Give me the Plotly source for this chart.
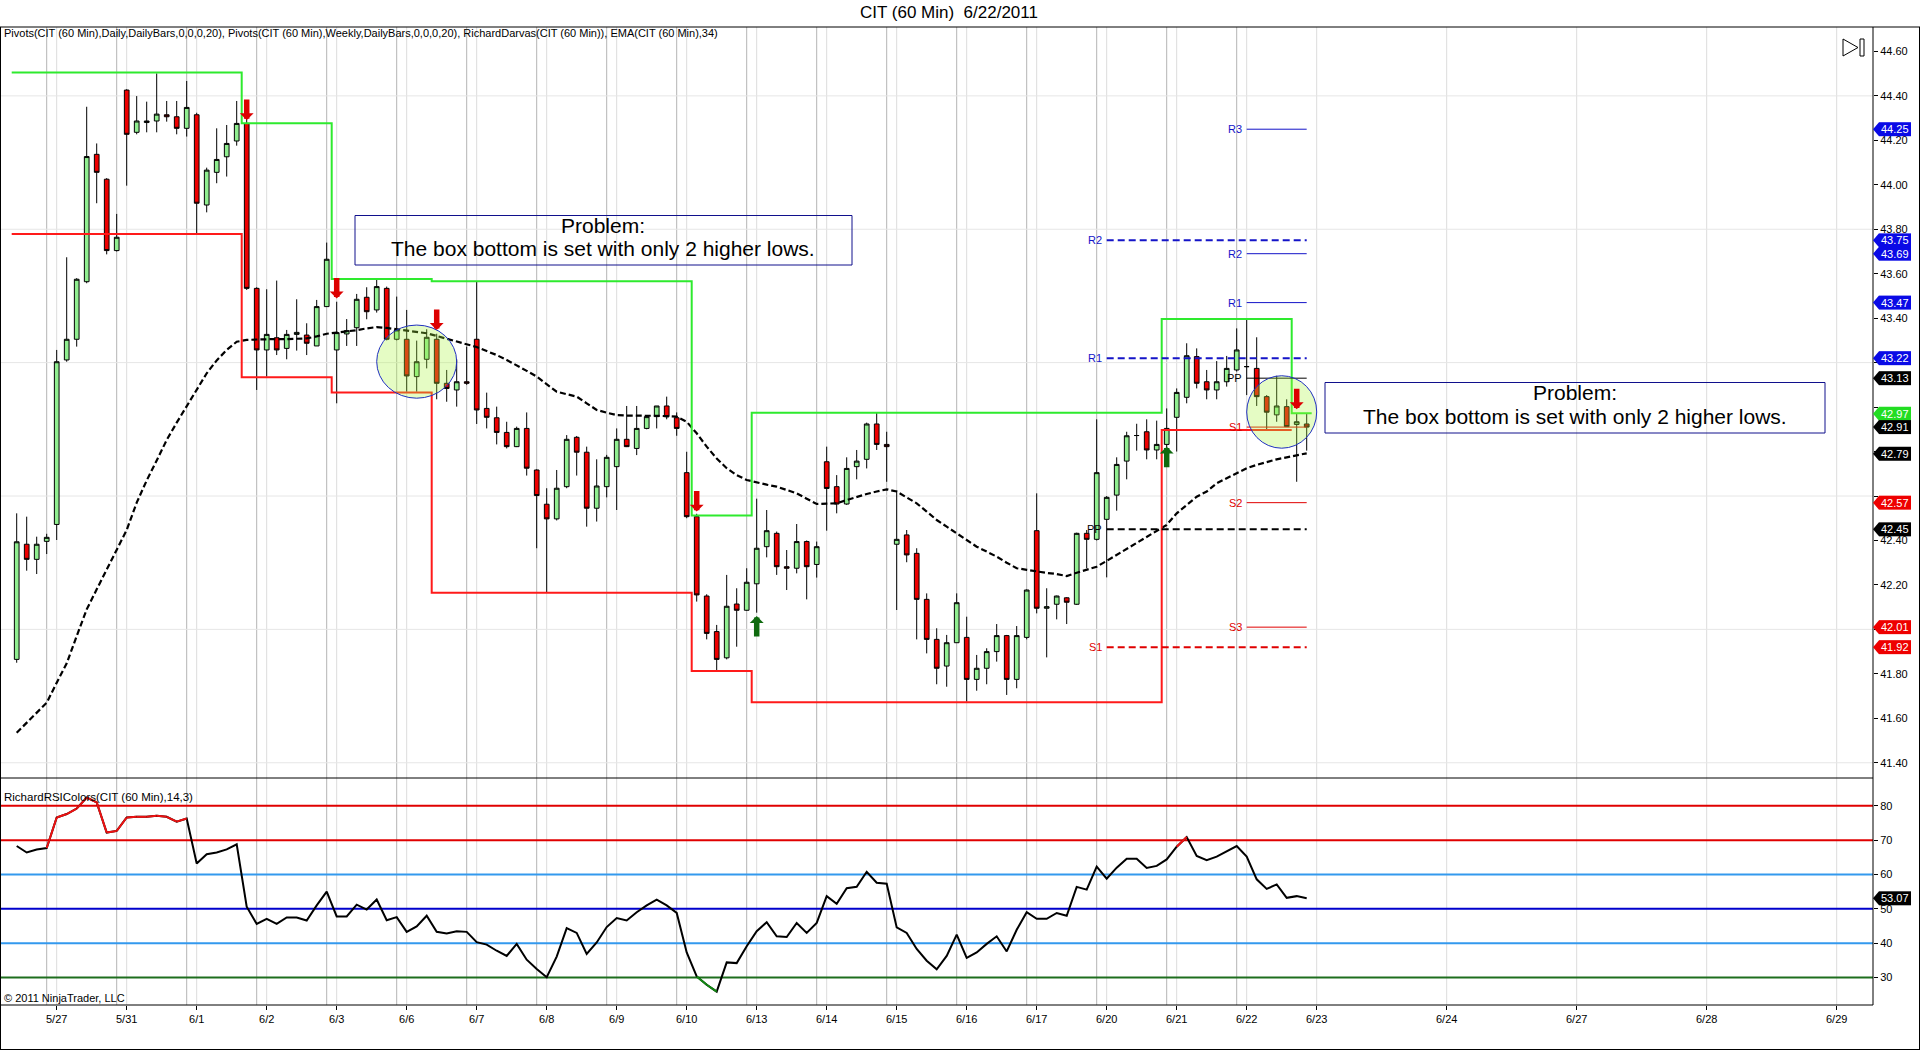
import plotly.graph_objects as go

# ------------------------------------------------------------------ data
bars = list(range(1, 131))

opens = [
    41.865, 42.383, 42.315, 42.396, 42.472, 43.212, 43.305, 43.564, 44.137, 44.025,
    43.704, 44.426, 44.236, 44.280, 44.287, 44.315, 44.306, 44.254, 44.315, 43.909,
    44.056, 44.126, 44.197, 44.276, 43.534, 43.257, 43.312, 43.264, 43.327, 43.324,
    43.275, 43.452, 43.257, 43.329, 43.357, 43.494, 43.437, 43.534, 43.305, 43.305,
    43.137, 43.215, 43.305, 43.107, 43.077, 43.114, 43.305, 42.994, 42.952, 42.886,
    42.822, 42.904, 42.717, 42.563, 42.497, 42.642, 42.864, 42.797, 42.545, 42.642,
    42.732, 42.855, 42.814, 42.904, 42.957, 43.005, 42.952, 42.705, 42.507, 42.150,
    41.990, 41.872, 42.114, 42.086, 42.205, 42.372, 42.432, 42.282, 42.275, 42.395,
    42.292, 42.754, 42.642, 42.564, 42.732, 42.765, 42.924, 42.832, 42.383, 42.425,
    42.342, 42.135, 41.955, 41.835, 41.940, 41.964, 41.775, 41.825, 41.900, 41.972,
    41.775, 41.964, 42.444, 42.095, 42.113, 42.142, 42.113, 42.432, 42.405, 42.495,
    42.604, 42.757, 42.872, 42.889, 42.807, 42.832, 42.954, 43.044, 43.227, 43.114,
    43.077, 43.114, 43.167, 43.182, 43.174, 43.047, 42.965, 43.002, 42.922, 42.924]

highs = [
    42.522, 42.507, 42.417, 42.430, 43.257, 43.674, 43.580, 44.351, 44.186, 44.030,
    43.869, 44.430, 44.399, 44.374, 44.501, 44.377, 44.377, 44.467, 44.324, 44.077,
    44.254, 44.269, 44.377, 44.300, 43.539, 43.530, 43.569, 43.347, 43.485, 43.377,
    43.482, 43.740, 43.474, 43.396, 43.509, 43.539, 43.572, 43.542, 43.497, 43.437,
    43.299, 43.350, 43.330, 43.167, 43.215, 43.272, 43.564, 43.065, 43.002, 42.934,
    42.912, 42.976, 42.720, 42.635, 42.717, 42.874, 42.870, 42.822, 42.765, 42.785,
    42.904, 43.005, 43.005, 42.960, 43.005, 43.047, 42.976, 42.799, 42.520, 42.158,
    42.020, 42.245, 42.185, 42.275, 42.588, 42.537, 42.440, 42.357, 42.474, 42.400,
    42.395, 42.822, 42.694, 42.774, 42.807, 42.930, 42.975, 42.889, 42.624, 42.447,
    42.365, 42.162, 42.005, 41.975, 42.162, 42.057, 41.885, 41.915, 42.024, 41.975,
    42.015, 42.180, 42.612, 42.185, 42.152, 42.145, 42.435, 42.447, 42.945, 42.600,
    42.774, 42.889, 42.925, 42.945, 42.939, 42.994, 43.084, 43.287, 43.264, 43.167,
    43.207, 43.230, 43.354, 43.392, 43.314, 43.054, 43.141, 43.035, 42.972, 42.972]

lows = [
    41.850, 42.264, 42.249, 42.339, 42.402, 43.204, 43.272, 43.557, 43.917, 43.687,
    43.700, 43.996, 44.227, 44.236, 44.236, 44.284, 44.227, 44.217, 43.782, 43.876,
    44.007, 44.037, 44.176, 43.527, 43.077, 43.137, 43.234, 43.215, 43.254, 43.234,
    43.275, 43.452, 43.017, 43.275, 43.275, 43.395, 43.425, 43.300, 43.300, 43.069,
    43.069, 43.174, 43.035, 43.024, 43.002, 43.100, 42.924, 42.904, 42.832, 42.814,
    42.820, 42.692, 42.365, 42.165, 42.490, 42.635, 42.692, 42.462, 42.485, 42.594,
    42.537, 42.820, 42.784, 42.900, 42.904, 42.945, 42.871, 42.500, 42.125, 41.955,
    41.815, 41.865, 41.922, 42.084, 42.075, 42.324, 42.245, 42.177, 42.252, 42.135,
    42.233, 42.444, 42.522, 42.560, 42.675, 42.724, 42.807, 42.664, 42.087, 42.302,
    41.955, 41.892, 41.753, 41.742, 41.940, 41.675, 41.724, 41.753, 41.855, 41.705,
    41.735, 41.955, 42.072, 41.874, 42.045, 42.024, 42.110, 42.275, 42.400, 42.234,
    42.534, 42.675, 42.804, 42.765, 42.765, 42.795, 42.800, 43.017, 43.084, 43.035,
    43.035, 43.092, 43.160, 43.054, 43.005, 42.897, 42.934, 42.912, 42.664, 42.804]

closes = [
    42.394, 42.315, 42.383, 42.414, 43.204, 43.305, 43.575, 44.127, 44.056, 43.704,
    43.764, 44.227, 44.287, 44.287, 44.318, 44.306, 44.254, 44.348, 43.917, 44.066,
    44.114, 44.186, 44.276, 43.534, 43.257, 43.327, 43.257, 43.327, 43.336, 43.287,
    43.452, 43.665, 43.335, 43.344, 43.485, 43.429, 43.542, 43.305, 43.347, 43.140,
    43.204, 43.314, 43.107, 43.084, 43.114, 43.107, 42.987, 42.954, 42.886, 42.822,
    42.904, 42.725, 42.602, 42.497, 42.635, 42.855, 42.797, 42.545, 42.645, 42.774,
    42.855, 42.822, 42.904, 42.957, 43.005, 42.957, 42.904, 42.507, 42.155, 41.982,
    41.865, 42.104, 42.086, 42.212, 42.365, 42.444, 42.282, 42.275, 42.395, 42.282,
    42.372, 42.634, 42.564, 42.724, 42.757, 42.924, 42.832, 42.822, 42.405, 42.335,
    42.135, 41.955, 41.825, 41.940, 42.120, 41.775, 41.825, 41.900, 41.972, 41.775,
    41.972, 42.177, 42.095, 42.102, 42.150, 42.122, 42.432, 42.405, 42.705, 42.594,
    42.742, 42.871, 42.872, 42.807, 42.832, 42.904, 43.066, 43.231, 43.107, 43.077,
    43.114, 43.174, 43.257, 43.182, 43.047, 42.977, 43.005, 42.912, 42.934, 42.910]

ema34 = [
    41.535, 41.580, 41.625, 41.670, 41.760, 41.847, 41.970, 42.090, 42.180, 42.270,
    42.357, 42.447, 42.570, 42.670, 42.760, 42.852, 42.930, 43.002, 43.080, 43.152,
    43.210, 43.257, 43.294, 43.302, 43.304, 43.306, 43.306, 43.306, 43.307, 43.309,
    43.318, 43.330, 43.335, 43.340, 43.346, 43.354, 43.360, 43.356, 43.350, 43.345,
    43.338, 43.332, 43.320, 43.308, 43.294, 43.283, 43.270, 43.252, 43.234, 43.212,
    43.189, 43.163, 43.137, 43.103, 43.069, 43.058, 43.047, 43.017, 42.987, 42.975,
    42.964, 42.962, 42.960, 42.961, 42.961, 42.959, 42.957, 42.934, 42.882, 42.822,
    42.769, 42.725, 42.694, 42.672, 42.660, 42.651, 42.642, 42.627, 42.612, 42.588,
    42.564, 42.566, 42.567, 42.582, 42.597, 42.609, 42.620, 42.630, 42.620, 42.594,
    42.567, 42.530, 42.492, 42.462, 42.432, 42.402, 42.372, 42.350, 42.327, 42.300,
    42.275, 42.268, 42.260, 42.254, 42.249, 42.240, 42.255, 42.268, 42.282, 42.308,
    42.335, 42.360, 42.387, 42.413, 42.440, 42.470, 42.522, 42.560, 42.597, 42.620,
    42.657, 42.680, 42.702, 42.725, 42.740, 42.754, 42.765, 42.774, 42.783, 42.792]

rsi = [
    68.3, 66.4, 67.3, 67.7, 76.6, 77.6, 79.2, 82.4, 81.0, 72.2,
    72.7, 76.6, 76.8, 76.8, 77.1, 76.8, 75.4, 76.3, 63.2, 65.9,
    66.4, 67.3, 68.8, 50.6, 45.6, 47.1, 45.6, 47.5, 47.5, 46.6,
    51.0, 55.0, 47.8, 47.8, 51.2, 49.8, 52.7, 46.7, 47.6, 43.3,
    44.9, 48.0, 43.3, 42.8, 43.5, 43.3, 40.3, 39.6, 37.8, 36.3,
    39.8, 35.2, 32.5, 30.1, 36.1, 44.4, 43.0, 36.9, 40.2, 44.7,
    47.3, 46.6, 49.0, 51.0, 52.7, 51.0, 48.8, 37.3, 30.3, 27.9,
    25.9, 34.4, 34.2, 39.1, 43.5, 46.1, 42.0, 41.8, 45.9, 43.0,
    45.9, 53.7, 51.5, 56.0, 56.4, 60.8, 57.6, 57.3, 44.6, 43.0,
    38.3, 34.9, 32.4, 36.3, 42.5, 35.7, 37.3, 39.8, 42.0, 37.6,
    43.9, 49.0, 47.1, 47.1, 48.8, 48.0, 56.4, 55.6, 62.3, 58.8,
    62.0, 64.6, 64.6, 61.9, 62.5, 64.4, 68.1, 70.9, 65.4, 64.2,
    65.2, 66.8, 68.3, 65.2, 58.6, 55.8, 57.1, 53.2, 53.7, 53.07]

date_labels = ["5/27", "5/31", "6/1", "6/2", "6/3", "6/6", "6/7", "6/8", "6/9", "6/10",
               "6/13", "6/14", "6/15", "6/16", "6/17", "6/20", "6/21", "6/22",
               "6/23", "6/24", "6/27", "6/28", "6/29"]
label_bars = [5, 12, 19, 26, 33, 40, 47, 54, 61, 68, 75, 82, 89, 96, 103, 110, 117, 124,
              131, 144, 157, 170, 183]

# Darvas box (top = green, bottom = red): level and last bar of each segment
darvas_top_levels = [44.505, 44.277, 43.576, 43.566, 42.512, 42.974, 43.396, 42.972]
darvas_top_ends = [23, 32, 42, 68, 74, 115, 128, 130]
darvas_bot_levels = [43.779, 43.134, 43.066, 42.165, 41.813, 41.672, 42.897]
darvas_bot_ends = [23, 32, 42, 68, 74, 115, 128]

sell_arrow_bars = [24, 33, 43, 69, 129]
sell_arrow_prices = [44.291, 43.489, 43.347, 42.530, 42.990]
buy_arrow_bars = [75, 116]
buy_arrow_prices = [42.060, 42.822]

weekly_pivots = {"R2": 43.75, "R1": 43.22, "PP": 42.45, "S1": 41.92}
daily_pivots = {"R3": 44.25, "R2": 43.69, "R1": 43.47, "PP": 43.13,
                "S1": 42.91, "S2": 42.57, "S3": 42.01}
weekly_start_bar = 110
daily_start_bar = 124

rsi_levels = [80, 70, 60, 50, 40, 30]

# price-axis labels that the reference hides behind its value flags
hidden_price_ticks = [43.2, 43.0, 42.8, 42.6, 42.0]

note_lines = ["Problem:", "The box bottom is set with only 2 higher lows."]

# ------------------------------------------------------------------ geometry / style
W, H = 1920, 1051
PL, PR, PT, PB = 0, 47, 27, 46
PLOT_W = W - PL - PR
PLOT_H = H - PT - PB
PLOT_BOT = H - PB
SEP_Y = 778
split = (PLOT_BOT - SEP_Y) / PLOT_H
X_RANGE = [-0.67, 186.63]
Y_RANGE = [41.3314, 44.7098]
RSI_RANGE = [22.0, 88.1]
FONT = "Liberation Sans, Arial, sans-serif"
PPU = (SEP_Y - PT) / (Y_RANGE[1] - Y_RANGE[0])      # px per price unit
RPU = (PLOT_BOT - SEP_Y) / (RSI_RANGE[1] - RSI_RANGE[0])

GREEN_BODY = "#90EE90"
RED_BODY = "#EE0000"
BOX_GREEN = "#2EEA2E"
BOX_RED = "#FF1A1A"
PIV_BLUE = "#1414C8"
PIV_RED = "#E00000"


def xp(px):
    return (px - PL) / PLOT_W


def yp(py):
    return (PLOT_BOT - py) / PLOT_H


def step_xy(levels, ends, first_bar):
    xs, ys = [], []
    start = first_bar
    for lev, end in zip(levels, ends):
        xs += [start - 0.5, end + 0.5]
        ys += [lev, lev]
        start = end + 1
    return xs, ys


fig = go.Figure()

# candles
fig.add_trace(go.Candlestick(
    x=bars, open=opens, high=highs, low=lows, close=closes,
    increasing=dict(fillcolor=GREEN_BODY, line=dict(color="black", width=1)),
    decreasing=dict(fillcolor=RED_BODY, line=dict(color="black", width=1)),
    whiskerwidth=0, showlegend=False, hoverinfo="skip", xaxis="x", yaxis="y"))

# EMA
fig.add_trace(go.Scatter(x=bars, y=ema34, mode="lines",
                         line=dict(color="black", width=2.2, dash="6px,3px"),
                         showlegend=False, hoverinfo="skip", xaxis="x", yaxis="y"))

# Darvas box
tx, ty = step_xy(darvas_top_levels, darvas_top_ends, bars[0])
bx, by = step_xy(darvas_bot_levels, darvas_bot_ends, bars[0])
fig.add_trace(go.Scatter(x=tx, y=ty, mode="lines", line=dict(color=BOX_GREEN, width=2),
                         showlegend=False, hoverinfo="skip", xaxis="x", yaxis="y"))
fig.add_trace(go.Scatter(x=bx, y=by, mode="lines", line=dict(color=BOX_RED, width=2),
                         showlegend=False, hoverinfo="skip", xaxis="x", yaxis="y"))


def piv_color(name):
    if name.startswith("R"):
        return PIV_BLUE
    if name.startswith("S"):
        return PIV_RED
    return "black"


annotations = []
# pivots (weekly dashed, daily solid)
for name, val in weekly_pivots.items():
    fig.add_trace(go.Scatter(x=[weekly_start_bar, bars[-1]], y=[val, val], mode="lines",
                             line=dict(color=piv_color(name), width=2, dash="7px,4px"),
                             showlegend=False, hoverinfo="skip", xaxis="x", yaxis="y"))
    annotations.append(dict(x=weekly_start_bar - 0.3, y=val, xref="x", yref="y", text=name,
                            showarrow=False, xanchor="right", yanchor="middle",
                            font=dict(family=FONT, size=11, color=piv_color(name))))
for name, val in daily_pivots.items():
    fig.add_trace(go.Scatter(x=[daily_start_bar, bars[-1]], y=[val, val], mode="lines",
                             line=dict(color=piv_color(name), width=1),
                             showlegend=False, hoverinfo="skip", xaxis="x", yaxis="y"))
    annotations.append(dict(x=daily_start_bar - 0.3, y=val, xref="x", yref="y", text=name,
                            showarrow=False, xanchor="right", yanchor="middle",
                            font=dict(family=FONT, size=11, color=piv_color(name))))

# RSI
fig.add_trace(go.Scatter(x=bars, y=rsi, mode="lines", line=dict(color="black", width=2),
                         showlegend=False, hoverinfo="skip", xaxis="x", yaxis="y2"))
rx, ry, gx, gy = [], [], [], []
for i in range(1, len(rsi)):
    if rsi[i] > 70:
        rx += [bars[i - 1], bars[i], None]
        ry += [rsi[i - 1], rsi[i], None]
    elif rsi[i] < 30:
        gx += [bars[i - 1], bars[i], None]
        gy += [rsi[i - 1], rsi[i], None]
fig.add_trace(go.Scatter(x=rx, y=ry, mode="lines", line=dict(color="#EE1111", width=2),
                         showlegend=False, hoverinfo="skip", xaxis="x", yaxis="y2"))
fig.add_trace(go.Scatter(x=gx, y=gy, mode="lines", line=dict(color="#128A12", width=2),
                         showlegend=False, hoverinfo="skip", xaxis="x", yaxis="y2"))

# ------------------------------------------------------------------ shapes
shapes = []
trading_labels = [b for b in label_bars if b <= bars[-1]]
for b in label_bars:
    shapes.append(dict(type="line", xref="x", yref="paper", x0=b, x1=b, y0=0, y1=1,
                       line=dict(color="#DCDCDC", width=1), layer="below"))
for b in trading_labels:
    shapes.append(dict(type="line", xref="x", yref="paper", x0=b - 1, x1=b - 1, y0=0, y1=1,
                       line=dict(color="#B4B4B4", width=1), layer="below"))
for g in [44.4, 43.8, 43.2, 42.6, 42.0, 41.4]:
    shapes.append(dict(type="line", xref="paper", yref="y", x0=0, x1=1, y0=g, y1=g,
                       line=dict(color="#E6E6E6", width=1), layer="below"))

rsi_level_colors = {80: "#E00000", 70: "#E00000", 60: "#3399EE", 50: "#0000CC",
                    40: "#3399EE", 30: "#1E6E1E"}
for lv in rsi_levels:
    shapes.append(dict(type="line", xref="paper", yref="y2", x0=0, x1=1, y0=lv, y1=lv,
                       line=dict(color=rsi_level_colors[lv], width=2), layer="below"))

# frame
frame = [((0, PT), (W, PT)), ((0, SEP_Y), (PLOT_W, SEP_Y)), ((0, PLOT_BOT), (PLOT_W, PLOT_BOT)),
         ((PLOT_W, PT), (PLOT_W, PLOT_BOT)), ((0.5, PT), (0.5, H - 1)),
         ((0, H - 1.5), (W, H - 1.5)), ((W - 0.5, PT), (W - 0.5, H - 1))]
for (x0, y0), (x1, y1) in frame:
    shapes.append(dict(type="line", xref="paper", yref="paper", x0=xp(x0), x1=xp(x1),
                       y0=yp(y0), y1=yp(y1), line=dict(color="black", width=1), layer="above"))

# "go to end" icon
shapes.append(dict(type="path", xref="paper", yref="paper",
                   path=f"M{xp(1843)},{yp(39)} L{xp(1858)},{yp(47.5)} L{xp(1843)},{yp(56)} Z",
                   line=dict(color="black", width=1), fillcolor="rgba(0,0,0,0)", layer="above"))
shapes.append(dict(type="rect", xref="paper", yref="paper", x0=xp(1860), x1=xp(1864),
                   y0=yp(56), y1=yp(39), line=dict(color="black", width=1), layer="above"))

# highlight circles
circles = [(37.0, 45.0, 43.040, 43.369), (124.0, 131.0, 42.815, 43.141)]
for x0, x1, y0, y1 in circles:
    shapes.append(dict(type="circle", xref="x", yref="y", x0=x0, x1=x1, y0=y0, y1=y1,
                       fillcolor="rgba(170,245,60,0.30)", line=dict(color="#2030C0", width=1),
                       layer="above"))

# right-axis price flags
flags = [(daily_pivots["R3"], "#0A0AE6"), (weekly_pivots["R2"], "#0A0AE6"),
         (daily_pivots["R2"], "#0A0AE6"), (daily_pivots["R1"], "#0A0AE6"),
         (weekly_pivots["R1"], "#0A0AE6"), (daily_pivots["PP"], "black"),
         (darvas_top_levels[-1], "#22DD22"), (closes[-1], "black"), (ema34[-1], "black"),
         (daily_pivots["S2"], "#EE0000"), (weekly_pivots["PP"], "black"),
         (daily_pivots["S3"], "#EE0000"), (weekly_pivots["S1"], "#EE0000")]


def add_flag(val, color, yref, ppu):
    h = 7.0 / ppu
    shapes.append(dict(type="path", xref="paper", yref=yref,
                       path=f"M{xp(PLOT_W)},{val} L{xp(PLOT_W + 6)},{val + h} L{xp(PLOT_W + 6)},{val - h} Z",
                       fillcolor=color, line=dict(width=0), layer="above"))
    shapes.append(dict(type="rect", xref="paper", yref=yref, x0=xp(PLOT_W + 6), x1=xp(PLOT_W + 38),
                       y0=val - h, y1=val + h, fillcolor=color, line=dict(width=0), layer="above"))
    annotations.append(dict(x=xp(PLOT_W + 22), y=val, xref="paper", yref=yref,
                            text=f"{val:.2f}", showarrow=False, xanchor="center", yanchor="middle",
                            font=dict(family=FONT, size=11, color="white")))


for v, c in flags:
    add_flag(round(v, 2), c, "y", PPU)
add_flag(rsi[-1], "black", "y2", RPU)

# Darvas arrows
for b, p in zip(sell_arrow_bars, sell_arrow_prices):
    annotations.append(dict(x=b, y=p, xref="x", yref="y", ax=0, ay=-22, text="", showarrow=True,
                            arrowhead=1, arrowsize=0.42, arrowwidth=5.5, arrowcolor="#DD0000",
                            standoff=0, startstandoff=0))
for b, p in zip(buy_arrow_bars, buy_arrow_prices):
    annotations.append(dict(x=b, y=p, xref="x", yref="y", ax=0, ay=22, text="", showarrow=True,
                            arrowhead=1, arrowsize=0.42, arrowwidth=5.5, arrowcolor="#0E6A0E",
                            standoff=0, startstandoff=0))

# note boxes: (left, top, right, bottom) in px, plus the centres of the two text lines
note_boxes = [((355, 215.5, 852, 265), (603, 225, 248.5)),
              ((1325, 382.5, 1825, 433), (1575, 393, 416.5))]
for (bx0, by0, bx1, by1), (cx, l1, l2) in note_boxes:
    shapes.append(dict(type="rect", xref="paper", yref="paper", x0=xp(bx0), x1=xp(bx1),
                       y0=yp(by1), y1=yp(by0), line=dict(color="#10108C", width=1),
                       fillcolor="rgba(0,0,0,0)", layer="above"))
    for txt, cy in zip(note_lines, (l1, l2)):
        annotations.append(dict(x=xp(cx), y=yp(cy), xref="paper", yref="paper", text=txt,
                                showarrow=False, xanchor="center", yanchor="middle",
                                font=dict(family=FONT, size=21, color="black")))

annotations.append(dict(x=xp(949), y=yp(12), xref="paper", yref="paper",
                        text="CIT (60 Min)&nbsp;&nbsp;6/22/2011", showarrow=False,
                        xanchor="center", yanchor="middle",
                        font=dict(family=FONT, size=17, color="black")))
annotations.append(dict(x=xp(2), y=yp(33), xref="paper", yref="paper",
                        text="Pivots(CIT (60 Min),Daily,DailyBars,0,0,0,20), Pivots(CIT (60 Min),Weekly,DailyBars,0,0,0,20), RichardDarvas(CIT (60 Min)), EMA(CIT (60 Min),34)",
                        showarrow=False, xanchor="left", yanchor="middle",
                        font=dict(family=FONT, size=11, color="black")))
annotations.append(dict(x=xp(2), y=yp(797), xref="paper", yref="paper",
                        text="RichardRSIColors(CIT (60 Min),14,3)", showarrow=False,
                        xanchor="left", yanchor="middle",
                        font=dict(family=FONT, size=11.5, color="black")))
annotations.append(dict(x=xp(2), y=yp(998), xref="paper", yref="paper",
                        text="© 2011 NinjaTrader, LLC", showarrow=False,
                        xanchor="left", yanchor="middle",
                        font=dict(family=FONT, size=11, color="black")))

price_ticks = [round(41.4 + 0.2 * i, 2) for i in range(17)]
price_ticktext = ["" if any(abs(t - h) < 1e-6 for h in hidden_price_ticks) else f"{t:.2f}"
                  for t in price_ticks]

fig.update_layout(
    width=W, height=H, margin=dict(l=PL, r=PR, t=PT, b=PB),
    paper_bgcolor="white", plot_bgcolor="white", showlegend=False,
    font=dict(family=FONT, size=11, color="black"),
    boxgap=0.33, hovermode=False,
    xaxis=dict(domain=[0, 1], range=X_RANGE, anchor="y2", tickmode="array",
               tickvals=label_bars, ticktext=date_labels, ticks="outside", ticklen=4,
               tickcolor="black", showgrid=False, zeroline=False, showline=False,
               rangeslider=dict(visible=False), fixedrange=True,
               tickfont=dict(family=FONT, size=11, color="black")),
    yaxis=dict(domain=[split, 1], range=Y_RANGE, side="right", anchor="x",
               tickmode="array", tickvals=price_ticks, ticktext=price_ticktext,
               ticks="outside", ticklen=4, tickcolor="black", showgrid=False, zeroline=False,
               showline=False, fixedrange=True,
               tickfont=dict(family=FONT, size=11, color="black")),
    yaxis2=dict(domain=[0, split], range=RSI_RANGE, side="right", anchor="x",
                tickmode="array", tickvals=rsi_levels, ticks="outside", ticklen=4,
                tickcolor="black", showgrid=False, zeroline=False, showline=False,
                fixedrange=True, tickfont=dict(family=FONT, size=11, color="black")),
    shapes=shapes, annotations=annotations,
)

fig.write_html("out.html", include_plotlyjs=True, config={"displayModeBar": False},
               post_script="document.body.style.margin='0';document.body.style.overflow='hidden';")
